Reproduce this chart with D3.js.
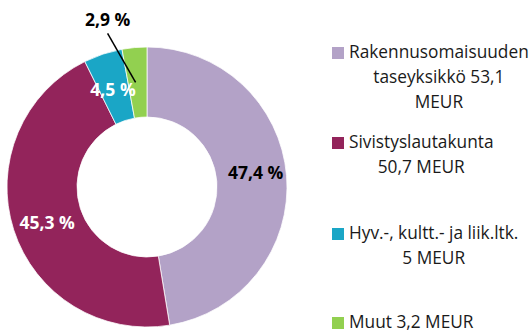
<!DOCTYPE html>
<html>
<head>
<meta charset="utf-8">
<script src="https://cdn.jsdelivr.net/npm/d3@7"></script>
<style>
  html, body { margin: 0; padding: 0; background: #fff; }
  svg { display: block; font-family: "Open Sans", "Noto Sans", sans-serif; }
</style>
</head>
<body>
<svg id="chart" width="529" height="336"></svg>
<script>
// Budget split by unit (MEUR)
const categories = ["Rakennusomaisuuden taseyksikkö", "Sivistyslautakunta", "Hyv.-, kultt.- ja liik.ltk.", "Muut"];
const values = [53.1, 50.7, 5, 3.2];
const percentLabels = ["47,4 %", "45,3 %", "4,5 %", "2,9 %"];
const legendLines = [
  ["Rakennusomaisuuden", "taseyksikkö 53,1", "MEUR"],
  ["Sivistyslautakunta", "50,7 MEUR"],
  ["Hyv.-, kultt.- ja liik.ltk.", "5 MEUR"],
  ["Muut 3,2 MEUR"]
];
const colors = ["#b3a2c7", "#93245b", "#1aa6c6", "#92d050"];

const svg = d3.select("#chart");
const cx = 147, cy = 187, outerR = 140, innerR = 70;

const pie = d3.pie().sort(null).value(d => d);
const arcs = pie(values);
const arc = d3.arc().innerRadius(innerR).outerRadius(outerR);
const labelArc = d3.arc().innerRadius(105).outerRadius(105);

const g = svg.append("g").attr("transform", `translate(${cx},${cy})`);

g.selectAll("path.slice")
  .data(arcs)
  .join("path")
  .attr("class", "slice")
  .attr("d", arc)
  .attr("fill", (d, i) => colors[i])
  .attr("stroke", "#fff")
  .attr("stroke-width", 0.75);

// Inside labels (the smallest slice gets an outside label with a leader line)
const labelStyle = [
  { fill: "#000", dx: 4, dy: -6 },
  { fill: "#fff", dx: 0, dy: 3 },
  { fill: "#fff", dx: -1, dy: 2 },
  null
];
const labelSize = 17.5;

arcs.forEach((d, i) => {
  const [x, y] = labelArc.centroid(d);
  if (labelStyle[i]) {
    g.append("text")
      .attr("x", x + labelStyle[i].dx)
      .attr("y", y + labelStyle[i].dy)
      .attr("text-anchor", "middle")
      .attr("dominant-baseline", "central")
      .attr("font-size", labelSize)
      .attr("font-weight", "bold")
      .attr("fill", labelStyle[i].fill)
      .text(percentLabels[i]);
  } else {
    // leader line from slice centroid up to the outside label
    const lx = x - 30, ly = y - 63;
    g.append("line")
      .attr("x1", x - 2).attr("y1", y)
      .attr("x2", lx).attr("y2", ly + 14)
      .attr("stroke", "#000")
      .attr("stroke-width", 1.5);
    g.append("text")
      .attr("x", lx)
      .attr("y", ly)
      .attr("text-anchor", "middle")
      .attr("dominant-baseline", "central")
      .attr("font-size", labelSize)
      .attr("font-weight", "bold")
      .attr("fill", "#000")
      .text(percentLabels[i]);
  }
});

// Legend
const legendTop = [58, 148, 239, 328];
const legend = svg.append("g");
const lineH = 25;
const legendSize = 17.3;

categories.forEach((c, i) => {
  const item = legend.append("g").attr("transform", `translate(332,${legendTop[i]})`);
  item.append("rect")
    .attr("x", 0).attr("y", -11)
    .attr("width", 12).attr("height", 12)
    .attr("fill", colors[i]);
  const txt = item.append("g");
  const first = txt.append("text")
    .attr("x", 17).attr("y", 0)
    .attr("font-size", legendSize)
    .attr("fill", "#1a1a1a")
    .text(legendLines[i][0]);
  const w = first.node().getComputedTextLength();
  const mid = 17 + w / 2;
  legendLines[i].slice(1).forEach((line, k) => {
    txt.append("text")
      .attr("x", mid).attr("y", (k + 1) * lineH)
      .attr("text-anchor", "middle")
      .attr("font-size", legendSize)
      .attr("fill", "#1a1a1a")
      .text(line);
  });
});
</script>
</body>
</html>
